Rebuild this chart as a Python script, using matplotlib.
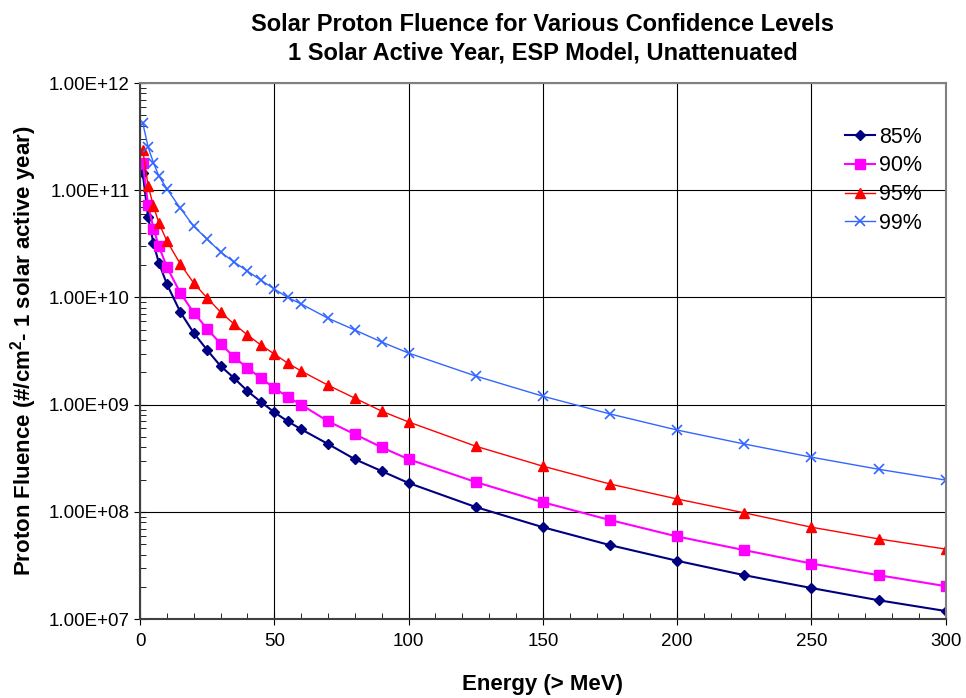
import matplotlib
matplotlib.use("Agg")
import matplotlib.pyplot as plt
from matplotlib.ticker import FuncFormatter, MultipleLocator, LogLocator

plt.rcParams['font.family'] = ['Liberation Sans', 'DejaVu Sans']
plt.rcParams['mathtext.fontset'] = 'custom'
plt.rcParams['mathtext.rm'] = 'Liberation Sans:bold'
plt.rcParams['mathtext.bf'] = 'Liberation Sans:bold'

# energy thresholds (> MeV)
energy = [1, 3, 5, 7, 10, 15, 20, 25, 30, 35, 40, 45, 50, 55, 60, 70, 80, 90,
          100, 125, 150, 175, 200, 225, 250, 275, 300]

# fluence (#/cm^2 per solar active year)
cl85 = [1.44e11, 5.6e10, 3.2e10, 2.1e10, 1.33e10, 7.3e9, 4.66e9, 3.23e9, 2.29e9,
        1.77e9, 1.34e9, 1.06e9, 8.5e8, 7.0e8, 5.9e8, 4.3e8, 3.1e8, 2.4e8,
        1.86e8, 1.11e8, 7.2e7, 4.9e7, 3.5e7, 2.57e7, 1.95e7, 1.5e7, 1.19e7]
cl90 = [1.8e11, 7.3e10, 4.4e10, 3.0e10, 1.92e10, 1.1e10, 7.2e9, 5.1e9, 3.7e9,
        2.78e9, 2.2e9, 1.77e9, 1.43e9, 1.18e9, 1.0e9, 7.0e8, 5.3e8, 4.0e8,
        3.1e8, 1.9e8, 1.23e8, 8.4e7, 5.9e7, 4.4e7, 3.3e7, 2.57e7, 2.03e7]
cl95 = [2.37e11, 1.1e11, 7.1e10, 4.95e10, 3.36e10, 2.05e10, 1.36e10, 9.9e9, 7.3e9,
        5.65e9, 4.47e9, 3.6e9, 2.97e9, 2.44e9, 2.06e9, 1.52e9, 1.15e9, 8.7e8,
        6.9e8, 4.1e8, 2.67e8, 1.82e8, 1.32e8, 9.8e7, 7.2e7, 5.6e7, 4.5e7]
cl99 = [4.24e11, 2.53e11, 1.8e11, 1.36e11, 1.03e11, 6.8e10, 4.6e10, 3.5e10, 2.65e10,
        2.14e10, 1.76e10, 1.45e10, 1.2e10, 1.0e10, 8.7e9, 6.4e9, 4.97e9, 3.84e9,
        3.03e9, 1.85e9, 1.2e9, 8.2e8, 5.8e8, 4.3e8, 3.24e8, 2.5e8, 1.98e8]

fig = plt.figure(figsize=(9.66, 6.98), dpi=100)
ax = fig.add_axes([0.145, 0.113, 0.834, 0.768])

ax.plot(energy, cl85, color='#000080', marker='D', markersize=5.5, lw=1.5, label='85%')
ax.plot(energy, cl90, color='#FF00FF', marker='s', markersize=7, lw=1.5, label='90%')
ax.plot(energy, cl95, color='#FF0000', marker='^', markersize=7, lw=1, label='95%')
ax.plot(energy, cl99, color='#3366FF', marker='x', markersize=7, mew=1.2, lw=1, label='99%')

ax.set_yscale('log')
ax.set_xlim(0, 300)
ax.set_ylim(1e7, 1e12)
ax.xaxis.set_major_locator(MultipleLocator(50))
ax.xaxis.set_minor_locator(MultipleLocator(10))
ax.yaxis.set_major_locator(LogLocator(base=10, numticks=10))
ax.yaxis.set_minor_locator(LogLocator(base=10, subs=range(2, 10), numticks=50))
ax.yaxis.set_major_formatter(FuncFormatter(lambda v, p: '%.2E' % v))
ax.yaxis.set_minor_formatter(FuncFormatter(lambda v, p: ''))

ax.grid(True, which='major', color='black', lw=0.8)
ax.tick_params(which='major', direction='inout', length=8, labelsize=13.5)
ax.tick_params(axis='x', which='major', pad=6)
ax.tick_params(which='minor', direction='in', length=4)
for s in ax.spines.values():
    s.set_color('#808080')
    s.set_linewidth(1.5)
ax.spines['left'].set_color('#404040')
ax.spines['bottom'].set_color('#404040')

ax.set_title('Solar Proton Fluence for Various Confidence Levels\n'
             '1 Solar Active Year, ESP Model, Unattenuated',
             fontsize=17, fontweight='bold', pad=17, linespacing=1.3)
ax.set_xlabel('Energy (> MeV)', fontsize=16, fontweight='bold', labelpad=17)
ax.set_ylabel(r'Proton Fluence (#/cm$^{2}$- 1 solar active year)',
              fontsize=16, fontweight='bold', labelpad=7)

ax.legend(loc='upper right', bbox_to_anchor=(0.995, 0.955), frameon=False,
          fontsize=15.5, handlelength=1.4, handletextpad=0.2, labelspacing=0.36)

fig.savefig('out.png', dpi=100)
